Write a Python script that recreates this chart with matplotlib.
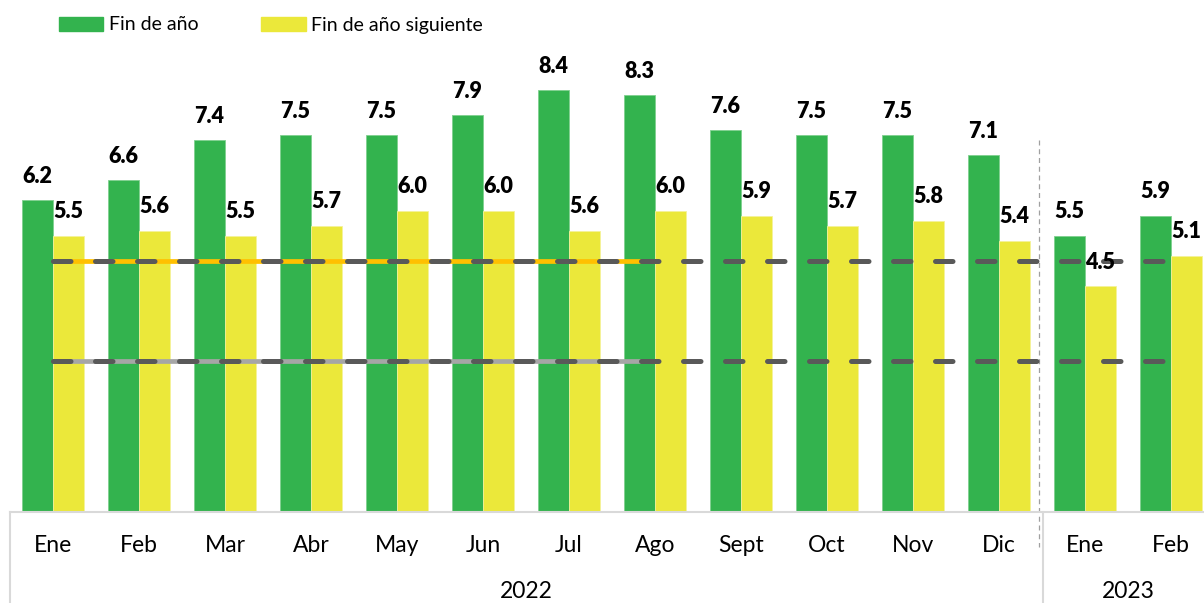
import numpy as np
import matplotlib as mpl
mpl.use('Agg')
import matplotlib.pyplot as plt
from matplotlib.patches import Patch

# Data
months = ['Ene', 'Feb', 'Mar', 'Abr', 'May', 'Jun', 'Jul', 'Ago',
          'Sept', 'Oct', 'Nov', 'Dic', 'Ene', 'Feb']
years = ['2022', '2023']
fin_anio = [6.2, 6.6, 7.4, 7.5, 7.5, 7.9, 8.4, 8.3, 7.6, 7.5, 7.5, 7.1, 5.5, 5.9]
fin_sig = [5.5, 5.6, 5.5, 5.7, 6.0, 6.0, 5.6, 6.0, 5.9, 5.7, 5.8, 5.4, 4.5, 5.1]
upper_ref = 5.0
lower_ref = 3.0
highlight_end = 7   # orange/gray band runs Ene..Ago 2022

green = '#33B34E'
yellow = '#EBE83A'
frame = '#D9D9D9'

mpl.rcParams['font.family'] = 'Lato'

fig = plt.figure(figsize=(12.04, 6.03), dpi=100)
ax = fig.add_axes([10 / 1204, 91 / 603, 1194 / 1204, 512 / 603])

x = np.arange(len(months))
w = 0.36
ax.bar(x - w / 2, fin_anio, w, color=green, edgecolor='#7FD08F', linewidth=0.6, zorder=2)
ax.bar(x + w / 2, fin_sig, w, color=yellow, edgecolor='#F4F29A', linewidth=0.6, zorder=2)

# reference lines
ax.plot([0, highlight_end], [upper_ref, upper_ref], color='#FFC000', lw=3.4,
        solid_capstyle='butt', zorder=3)
ax.plot([0, highlight_end], [lower_ref, lower_ref], color='#A6A6A6', lw=3.4,
        solid_capstyle='butt', zorder=3)
for yv in (upper_ref, lower_ref):
    ax.plot([0, len(months) - 1], [yv, yv], color='#595959', lw=3.6,
            dashes=(3.5, 4.9), dash_capstyle='round', zorder=4)

# value labels
for i in range(len(months)):
    ax.annotate(f'{fin_anio[i]:.1f}', (x[i] - w / 2, fin_anio[i]), xytext=(0, 12.5),
                textcoords='offset points', ha='center', va='baseline',
                fontsize=15.5, fontweight='heavy', zorder=5)
    ax.annotate(f'{fin_sig[i]:.1f}', (x[i] + w / 2, fin_sig[i]), xytext=(0, 12.5),
                textcoords='offset points', ha='center', va='baseline',
                fontsize=15.5, fontweight='heavy', zorder=5)

ax.set_xlim(-0.5, 13.384)
ax.set_ylim(0, 10.19)
ax.set_xticks([])
ax.set_yticks([])
for s in ax.spines.values():
    s.set_visible(False)

# category axis box
trans = ax.get_xaxis_transform()
ax.plot([-0.5, 13.5], [0, 0], color=frame, lw=1.5, transform=trans, clip_on=False)
ax.plot([-0.5, -0.5], [0, -0.2], color=frame, lw=1.5, transform=trans, clip_on=False)
ax.plot([11.51, 11.51], [0, -0.2], color=frame, lw=1.5, transform=trans, clip_on=False)
ax.plot([11.465, 11.465], [7.4, -0.7], color='#A0A0A0', lw=0.9, ls=(0, (4, 3)),
        clip_on=False, zorder=1)

for i, m in enumerate(months):
    ax.text(x[i], -0.065, m, transform=trans, ha='center', va='center', fontsize=16.5)
ax.text(5.5, -0.156, years[0], transform=trans, ha='center', va='center', fontsize=16.5)
ax.text(12.5, -0.156, years[1], transform=trans, ha='center', va='center', fontsize=16.5)

handles = [Patch(color=green, label='Fin de año'),
           Patch(color=yellow, label='Fin de año siguiente')]
fig.legend(handles=handles, loc='center left', bbox_to_anchor=(41 / 1204, 1 - 25 / 603),
           ncol=2, frameon=False, fontsize=14, handlelength=2.3, handleheight=0.75,
           handletextpad=0.3, columnspacing=3.2)

fig.savefig('out.png', dpi=100)
